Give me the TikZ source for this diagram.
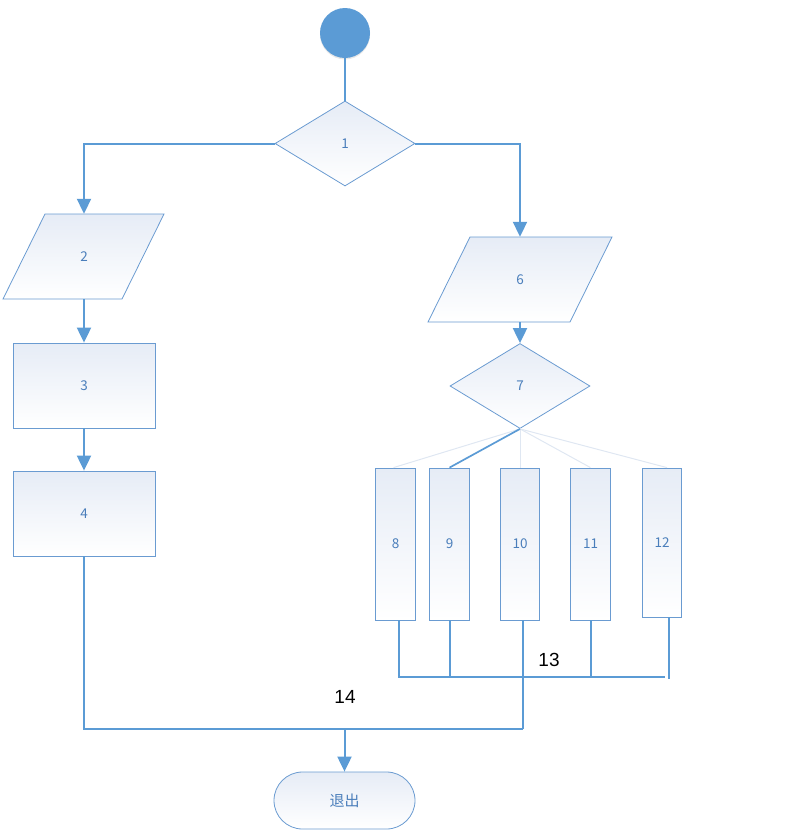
\documentclass[tikz,border=0pt]{standalone}
\usepackage{fontspec}
\setmainfont{Noto Sans CJK SC}
\newfontfamily\arialfont{Liberation Sans}
\usetikzlibrary{shapes.geometric,arrows.meta,shadows}
\definecolor{lineblue}{HTML}{5B9BD5}
\definecolor{edgeblue}{HTML}{6A9BD1}
\definecolor{txtblue}{HTML}{4A7EBB}
\definecolor{topfill}{HTML}{E6ECF6}
\definecolor{faint}{HTML}{DFE7F2}
\tikzset{
  shapebase/.style={draw=edgeblue, line width=0.8pt, top color=topfill, bottom color=white,
    text=txtblue, font=\fontsize{13.5}{15}\selectfont, inner sep=0pt},
  boxnode/.style={shapebase, rectangle, minimum width=142pt, minimum height=85pt},
  tallbox/.style={shapebase, rectangle, minimum width=39.5pt, minimum height=152pt},
  decision/.style={shapebase, diamond, aspect=1.647, minimum width=140pt, minimum height=85pt},
  ghost/.style={rectangle, draw=none, inner sep=0pt, minimum height=85pt, text=txtblue,
    font=\fontsize{13.5}{15}\selectfont},
  conn/.style={draw=lineblue, line width=2pt},
  arrowconn/.style={conn, -{Triangle[width=14pt,length=15pt]}},
  faintline/.style={draw=faint, line width=1pt},
  biglabel/.style={font=\arialfont\fontsize{19}{22}\selectfont, text=black}
}
\begin{document}
\begin{tikzpicture}[x=1pt,y=-1pt]
\useasboundingbox (0,0) rectangle (789,833);

% start circle
\node[circle, fill=lineblue, minimum size=50pt, inner sep=0pt,
  drop shadow={opacity=0.18, shadow xshift=0pt, shadow yshift=-1.5pt}] (start) at (345,33) {};

% decision 1
\node[decision] (d1) at (345,143.5) {1};

% parallelogram 2
\path[shapebase] (45,214) -- (164,214) -- (122,299) -- (3,299) -- cycle;
\node[ghost, minimum width=119pt] (p2) at (84,256.5) {2};

% boxes 3 and 4
\node[boxnode] (r3) at (84,385.5) {3};
\node[boxnode] (r4) at (84,513.5) {4};

% parallelogram 6
\path[shapebase] (470,237) -- (612,237) -- (570,322) -- (428,322) -- cycle;
\node[ghost, minimum width=142pt] (p6) at (520,279.5) {6};

% decision 7
\node[decision] (d7) at (520,386) {7};

% tall boxes
\node[tallbox] (b8) at (395.5,544) {8};
\node[tallbox] (b9) at (449.5,544) {9};
\node[tallbox] (b10) at (520,544) {10};
\node[tallbox] (b11) at (590.5,544) {11};
\node[tallbox, minimum height=149pt] (b12) at (662,542.5) {12};

% terminal
\node[shapebase, rectangle, rounded corners=28.5pt, minimum width=141pt, minimum height=57pt,
  font=\fontsize{15}{17}\selectfont] (term) at (344.5,800.5) {退出};

% connectors
\draw[conn] (start) -- (d1.north);
\draw[arrowconn] (d1.west) -| (p2.north);
\draw[arrowconn] (d1.east) -| (p6.north);
\draw[arrowconn] (p2.south) -- (r3.north);
\draw[arrowconn] (r3.south) -- (r4.north);
\draw[arrowconn] (p6.south) -- (d7.north);

% fan-out from 7
\draw[faintline] (d7.south) -- ([xshift=-2pt]b8.north);
\draw[faintline] (d7.south) -- (b10.north);
\draw[faintline] (d7.south) -- (b11.north);
\draw[faintline] (d7.south) -- ([xshift=5pt]b12.north);
\draw[conn, line width=1.7pt] (d7.south) -- (b9.north);

% bus 13
\coordinate (busL) at (399,677);
\coordinate (busR) at (665,677);
\draw[conn] ([xshift=3.5pt]b8.south) -- (busL) -- (busR);
\draw[conn] (b9.south) -- (b9.south |- busL);
\draw[conn] (b11.south) -- (b11.south |- busL);
\draw[conn] ([xshift=7pt]b12.south) -- ++(0,62);
\draw[conn] ([xshift=3pt]b10.south) -- ++(0,109) coordinate (j10);

% bus 14
\draw[conn] (r4.south) |- (j10);
\draw[arrowconn] (term.north |- j10) -- (term.north);

% labels
\node[biglabel] (l13) at (549,660) {13};
\node[biglabel] (l14) at (345,697) {14};
\end{tikzpicture}
\end{document}
